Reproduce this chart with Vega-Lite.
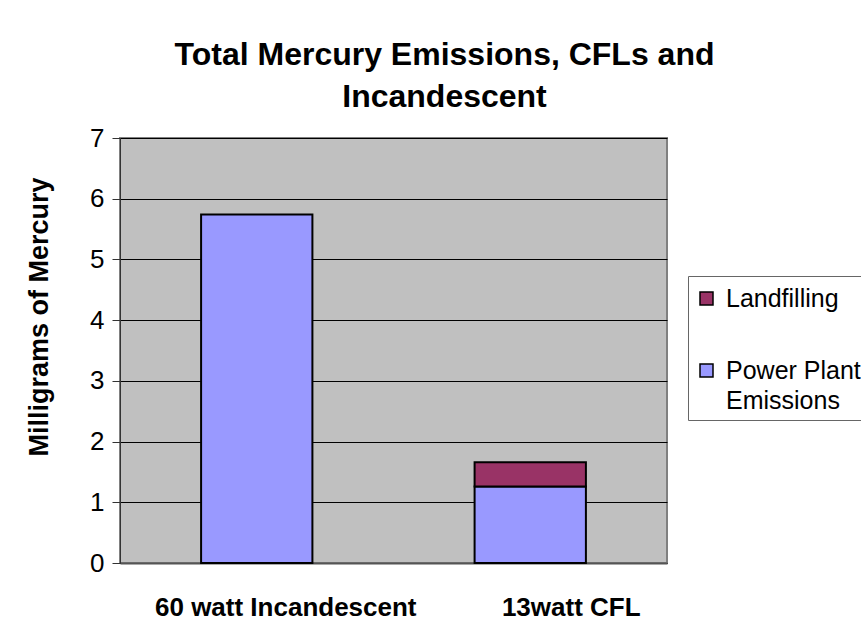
{
  "$schema": "https://vega.github.io/schema/vega-lite/v6.json",
  "autosize": "none",
  "width": 547,
  "height": 425,
  "padding": {"left": 120, "top": 138, "right": 194, "bottom": 80},
  "background": "white",
  "title": {
    "text": ["Total Mercury Emissions, CFLs and", "Incandescent"],
    "font": "Liberation Sans",
    "fontSize": 32,
    "fontWeight": "bold",
    "color": "#000",
    "anchor": "middle",
    "frame": "group",
    "dx": 51,
    "offset": 11,
    "lineHeight": 42
  },
  "data": {
    "values": [
      {"bulb": "60 watt Incandescent", "source": "Power Plant Emissions", "mg": 5.74},
      {"bulb": "13watt CFL", "source": "Power Plant Emissions", "mg": 1.26},
      {"bulb": "13watt CFL", "source": "Landfilling", "mg": 0.4}
    ]
  },
  "mark": {"type": "bar", "stroke": "#000", "strokeWidth": 2},
  "encoding": {
    "x": {
      "field": "bulb",
      "type": "nominal",
      "sort": null,
      "scale": {"paddingInner": 0.593, "paddingOuter": 0.2965},
      "axis": {
        "title": null,
        "labelAngle": 0,
        "labelFont": "Liberation Sans",
        "labelFontSize": 26,
        "labelFontWeight": "bold",
        "labelColor": "#000",
        "labelBaseline": "middle",
        "labelPadding": 44,
        "labelLimit": 0,
        "labelOffset": {"expr": "datum.value == '13watt CFL' ? 41 : 29"},
        "ticks": false,
        "domainColor": "#555",
        "domainWidth": 2
      }
    },
    "y": {
      "field": "mg",
      "type": "quantitative",
      "stack": "zero",
      "scale": {"domain": [0, 7], "nice": false},
      "axis": {
        "title": "Milligrams of Mercury",
        "titleFont": "Liberation Sans",
        "titleFontSize": 27,
        "titleFontWeight": "bold",
        "titleColor": "#000",
        "titleAngle": -90,
        "titleAlign": "left",
        "titleBaseline": "alphabetic",
        "titleX": -73,
        "titleY": 318,
        "values": [0, 1, 2, 3, 4, 5, 6, 7],
        "format": "d",
        "labelFont": "Liberation Sans",
        "labelFontSize": 26,
        "labelColor": "#000",
        "labelPadding": 8,
        "tickSize": 8,
        "tickColor": "#333",
        "domainColor": "#333",
        "grid": true,
        "gridColor": "#000",
        "gridWidth": 1
      }
    },
    "color": {
      "field": "source",
      "type": "nominal",
      "scale": {"domain": ["Landfilling", "Power Plant Emissions"], "range": ["#993366", "#9999ff"]},
      "legend": {
        "title": " ",
        "titleFontSize": 1,
        "titlePadding": 3,
        "orient": "none",
        "legendX": 568,
        "legendY": 138,
        "padding": 6,
        "strokeColor": "#666",
        "fillColor": "#fff",
        "symbolType": "square",
        "symbolSize": 169,
        "symbolStrokeColor": "#000",
        "symbolStrokeWidth": 1.5,
        "symbolOpacity": 1,
        "labelFont": "Liberation Sans",
        "labelFontSize": 25,
        "labelColor": "#000",
        "labelOffset": 7,
        "labelLimit": 0,
        "rowPadding": 46,
        "labelExpr": "datum.label == 'Power Plant Emissions' ? ['Power Plant', 'Emissions'] : datum.label"
      }
    },
    "order": {"field": "source", "sort": "descending"}
  },
  "config": {
    "view": {"fill": "#c0c0c0", "stroke": "#808080", "strokeWidth": 2},
    "style": {"guide-label": {"lineHeight": 30}}
  }
}
